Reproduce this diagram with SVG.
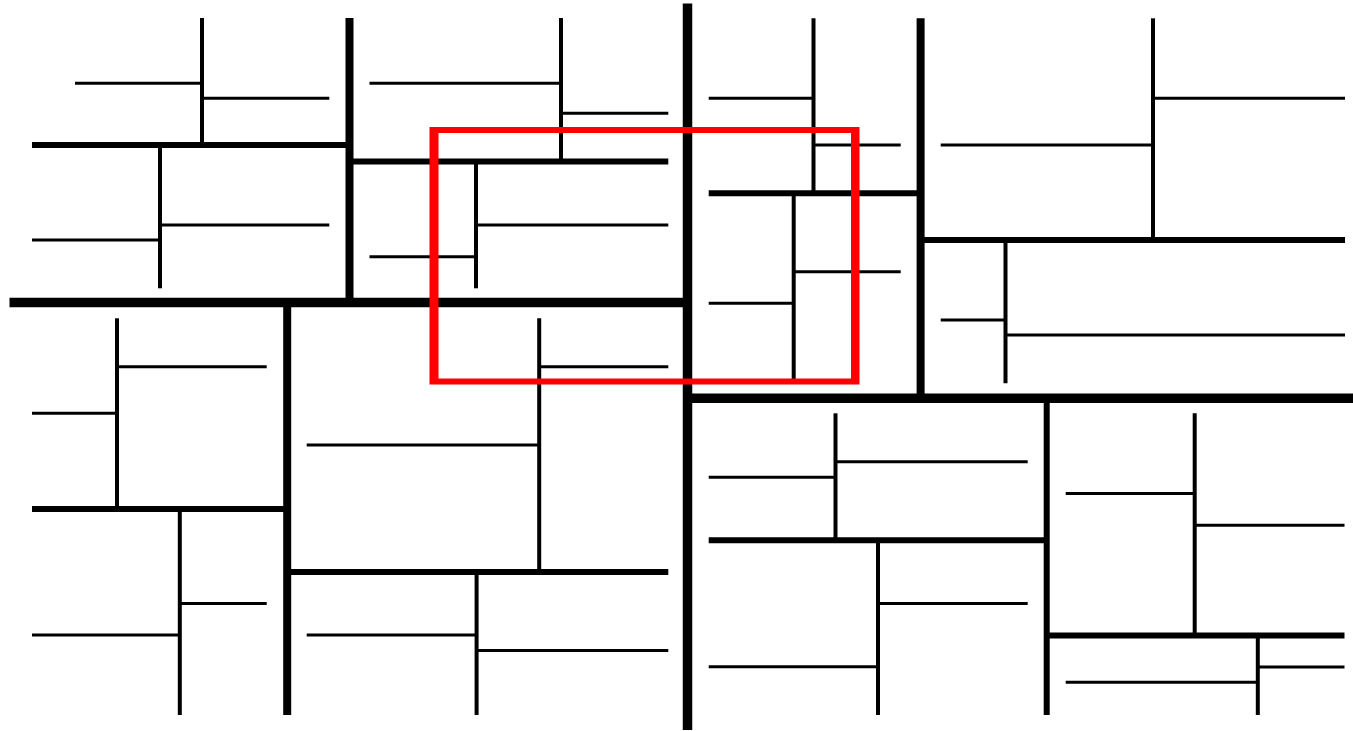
<svg xmlns="http://www.w3.org/2000/svg" width="1353" height="731" viewBox="0 0 1353 731">
<style>
line{stroke:#000;stroke-linecap:butt;fill:none}
.w0{stroke-width:9.5}
.w2{stroke-width:8}
.w2b{stroke-width:6}
.w3{stroke-width:6}
.w4{stroke-width:4}
.w5{stroke-width:3}
.sel{fill:#ff0000;fill-rule:evenodd}
</style>
<rect width="1353" height="731" fill="#fff"/>
<g id="root">
<line class="w0" x1="687.5" y1="3.5" x2="687.5" y2="730"/>
<line class="w0" x1="9.5" y1="302.5" x2="687.5" y2="302.5"/>
<line class="w0" x1="687.5" y1="398.3" x2="1353" y2="398.3"/>
</g>
<g id="left-top">
<line class="w2" x1="349.5" y1="18" x2="349.5" y2="302.5"/>
<line class="w3" x1="32" y1="145" x2="349.5" y2="145"/>
<line class="w4" x1="202" y1="18" x2="202" y2="145"/>
<line class="w5" x1="75" y1="83.3" x2="202" y2="83.3"/>
<line class="w5" x1="202" y1="98.3" x2="329.3" y2="98.3"/>
<line class="w4" x1="160" y1="145" x2="160" y2="288.3"/>
<line class="w5" x1="32" y1="240" x2="160" y2="240"/>
<line class="w5" x1="160" y1="225" x2="329.3" y2="225"/>
<line class="w3" x1="349.5" y1="161.5" x2="668.3" y2="161.5"/>
<line class="w4" x1="561" y1="18" x2="561" y2="161.5"/>
<line class="w5" x1="369.5" y1="83.3" x2="561" y2="83.3"/>
<line class="w5" x1="561" y1="113.3" x2="668.3" y2="113.3"/>
<line class="w4" x1="476" y1="161.5" x2="476" y2="288.3"/>
<line class="w5" x1="369.5" y1="256.8" x2="476" y2="256.8"/>
<line class="w5" x1="476" y1="225" x2="668.3" y2="225"/>
</g>
<g id="left-bottom">
<line class="w2" x1="287.2" y1="302.5" x2="287.2" y2="715"/>
<line class="w3" x1="32" y1="509" x2="287.2" y2="509"/>
<line class="w4" x1="117" y1="318.3" x2="117" y2="509"/>
<line class="w5" x1="32" y1="413.3" x2="117" y2="413.3"/>
<line class="w5" x1="117" y1="366.7" x2="266.7" y2="366.7"/>
<line class="w4" x1="179.8" y1="509" x2="179.8" y2="715"/>
<line class="w5" x1="32" y1="635" x2="179.8" y2="635"/>
<line class="w5" x1="179.8" y1="603.5" x2="266.7" y2="603.5"/>
<line class="w3" x1="287.2" y1="572" x2="668.3" y2="572"/>
<line class="w4" x1="539.2" y1="318.3" x2="539.2" y2="572"/>
<line class="w5" x1="306.7" y1="445" x2="539.2" y2="445"/>
<line class="w5" x1="539.2" y1="366.7" x2="668.3" y2="366.7"/>
<line class="w4" x1="476.6" y1="572" x2="476.6" y2="715"/>
<line class="w5" x1="306.7" y1="635" x2="476.6" y2="635"/>
<line class="w5" x1="476.6" y1="650.5" x2="668.3" y2="650.5"/>
</g>
<g id="right-top">
<line class="w2" x1="920.6" y1="18.3" x2="920.6" y2="398.3"/>
<line class="w3" x1="708.7" y1="193.3" x2="920.6" y2="193.3"/>
<line class="w4" x1="813.5" y1="18.3" x2="813.5" y2="193.3"/>
<line class="w5" x1="708.7" y1="98.3" x2="813.5" y2="98.3"/>
<line class="w5" x1="813.5" y1="145" x2="900.7" y2="145"/>
<line class="w4" x1="793.7" y1="193.3" x2="793.7" y2="380"/>
<line class="w5" x1="708.7" y1="303.3" x2="793.7" y2="303.3"/>
<line class="w5" x1="793.7" y1="271.7" x2="900.7" y2="271.7"/>
<line class="w3" x1="920.6" y1="240" x2="1345" y2="240"/>
<line class="w4" x1="1153" y1="18.3" x2="1153" y2="240"/>
<line class="w5" x1="940.7" y1="145" x2="1153" y2="145"/>
<line class="w5" x1="1153" y1="98.3" x2="1345" y2="98.3"/>
<line class="w4" x1="1005.5" y1="240" x2="1005.5" y2="383.3"/>
<line class="w5" x1="940.7" y1="320" x2="1005.5" y2="320"/>
<line class="w5" x1="1005.5" y1="335" x2="1345" y2="335"/>
</g>
<g id="right-bottom">
<line class="w2b" x1="1046.7" y1="398.3" x2="1046.7" y2="715"/>
<line class="w3" x1="708.7" y1="540.3" x2="1046.7" y2="540.3"/>
<line class="w4" x1="835.5" y1="413.3" x2="835.5" y2="540.3"/>
<line class="w5" x1="708.7" y1="477.3" x2="835.5" y2="477.3"/>
<line class="w5" x1="835.5" y1="461.7" x2="1027.7" y2="461.7"/>
<line class="w4" x1="878" y1="540.3" x2="878" y2="715"/>
<line class="w5" x1="708.7" y1="666.7" x2="878" y2="666.7"/>
<line class="w5" x1="878" y1="603.5" x2="1027.7" y2="603.5"/>
<line class="w3" x1="1046.7" y1="635.5" x2="1344.5" y2="635.5"/>
<line class="w4" x1="1194.7" y1="413.3" x2="1194.7" y2="635.5"/>
<line class="w5" x1="1065.7" y1="493.5" x2="1194.7" y2="493.5"/>
<line class="w5" x1="1194.7" y1="525.3" x2="1344.5" y2="525.3"/>
<line class="w4" x1="1257.8" y1="635.5" x2="1257.8" y2="715"/>
<line class="w5" x1="1065.7" y1="682.3" x2="1257.8" y2="682.3"/>
<line class="w5" x1="1257.8" y1="667" x2="1344.5" y2="667"/>
</g>
<g id="query-rect">
<path class="sel" d="M429.5,127 H859.5 V384.5 H429.5 Z M438.5,133 H851 V378.5 H438.5 Z"/>
</g>
</svg>
